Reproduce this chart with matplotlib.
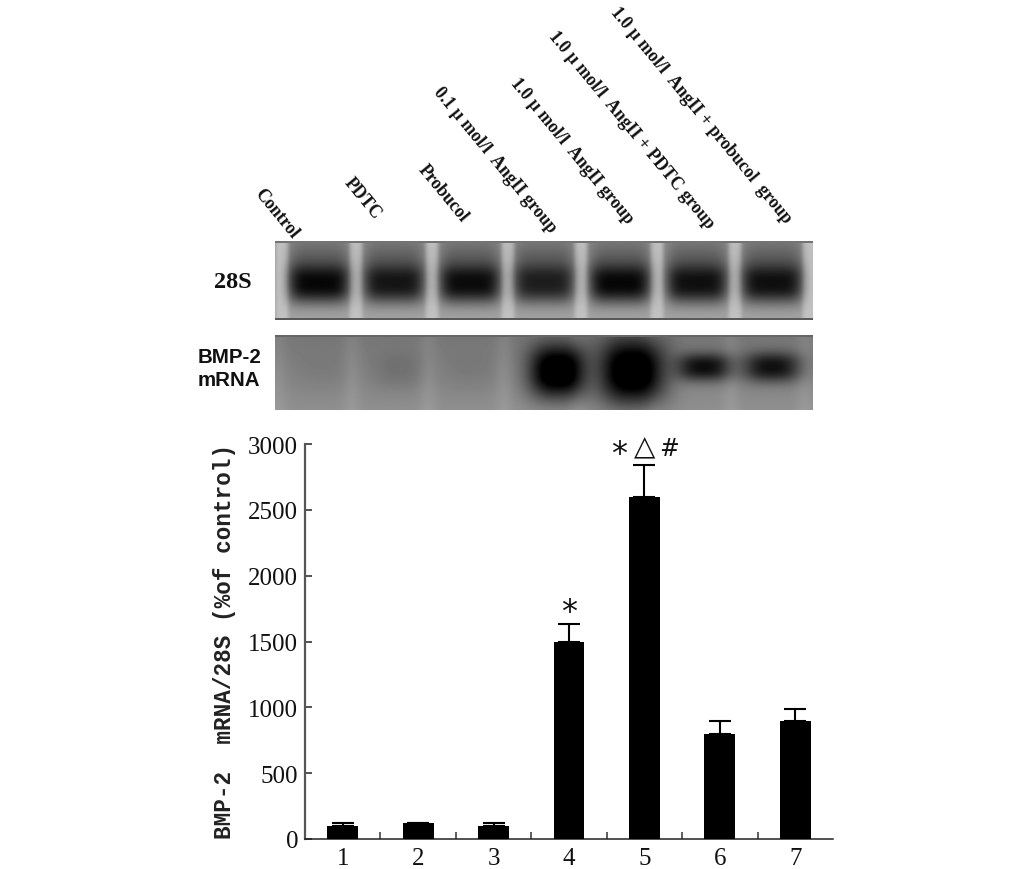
import numpy as np
import matplotlib
matplotlib.use("Agg")
import matplotlib.pyplot as plt

W, H = 1033, 870

# ---- data
groups = ["1", "2", "3", "4", "5", "6", "7"]
values = [100, 120, 100, 1500, 2600, 800, 900]
errors = [20, 0, 20, 130, 240, 100, 90]
yticks = [0, 500, 1000, 1500, 2000, 2500, 3000]
ylabel = "BMP-2  mRNA/28S (%of control)"

lane_labels = ["Control", "PDTC", "Probucol", "0.1 \u00b5 mol/l  AngII group",
               "1.0 \u00b5 mol/l  AngII group", "1.0 \u00b5 mol/l  AngII + PDTC group",
               "1.0 \u00b5 mol/l  AngII + probucol  group"]
lane_label_xy = [(258, 191), (347, 180), (421, 167), (437, 90), (514, 81), (552, 34), (614, 10)]

# blot lanes, in figure pixels
lane_x_28s = [319, 394, 470, 544, 620, 697, 772]
gap_x_28s = [282, 356, 432, 508, 581, 657, 735, 809]
band_28s = [0.96, 0.86, 0.93, 0.80, 0.96, 0.90, 0.90]
lane_x_bmp = [322, 398, 470, 558, 632, 704, 772]
band_bmp = [0.04, 0.10, 0.05, 1.0, 1.0, 0.72, 0.70]
band_y_bmp = [372, 372, 372, 372, 372, 368, 368]
band_w_bmp = [26, 26, 26, 29, 33, 28, 29]
band_h_bmp = [20, 20, 20, 27, 33, 14, 15]


def px_axes(x0, y0, x1, y1, **kw):
    return fig.add_axes([x0 / W, 1 - y1 / H, (x1 - x0) / W, (y1 - y0) / H], **kw)


fig = plt.figure(figsize=(W / 100, H / 100), dpi=100, facecolor="white")

# ---- 28S blot
x0, x1, y0, y1 = 275, 813, 242, 321
X, Y = np.meshgrid(np.arange(x0, x1) + .5, np.arange(y0, y1) + .5)
img = 0.56 + 0.08 * (Y - y0) / (y1 - y0)
for gx in gap_x_28s:
    g = np.exp(-np.abs((X - gx) / 7) ** 4)
    img = img + (0.76 - img) * g
for lx, a in zip(lane_x_28s, band_28s):
    prof = np.exp(-np.abs((X - lx) / 31) ** 5) * np.exp(-np.abs((Y - 284) / 20) ** 2.6)
    img = img * (1 - a * prof)
    halo = np.exp(-np.abs((X - lx) / 31) ** 5) * np.exp(-((Y - 258) / 20) ** 2)
    img = img * (1 - 0.30 * halo)
img[:2] = 0.45
img[-2:] = 0.35
ax = px_axes(x0, y0, x1, y1)
ax.imshow(img, cmap="gray", vmin=0, vmax=1, aspect="auto", interpolation="bilinear")
ax.axis("off")

# ---- BMP-2 blot
x0, x1, y0, y1 = 275, 813, 336, 411
X, Y = np.meshgrid(np.arange(x0, x1) + .5, np.arange(y0, y1) + .5)
img = 0.46 + 0.10 * (Y - y0) / (y1 - y0)
for gx in gap_x_28s:
    img = img + 0.04 * np.exp(-((X - gx + 4) / 9) ** 2)
for lx, a, by, bw, bh in zip(lane_x_bmp, band_bmp, band_y_bmp, band_w_bmp, band_h_bmp):
    prof = np.exp(-np.abs((X - lx) / bw) ** 2.6) * np.exp(-np.abs((Y - by) / bh) ** 2.4)
    img = img * (1 - np.clip(1.25 * a * prof, 0, 1))
img[:2] = 0.40
ax = px_axes(x0, y0, x1, y1)
ax.imshow(img, cmap="gray", vmin=0, vmax=1, aspect="auto", interpolation="bilinear")
ax.axis("off")

# ---- texts above and beside the blots
for lab, (lx, ly) in zip(lane_labels, lane_label_xy):
    fig.text(lx / W, 1 - ly / H, lab, rotation=-50.5, rotation_mode="anchor", ha="left", va="center",
             family="Liberation Serif", weight="bold", fontsize=12.8, color="#111111")
fig.text(233 / W, 1 - 283 / H, "28S", ha="center", va="center",
         family="Liberation Serif", weight="bold", fontsize=17.5, color="#111111")
fig.text(198 / W, 1 - 358 / H, "BMP-2", ha="left", va="center",
         family="Liberation Sans", weight="bold", fontsize=14.8, color="#111111")
fig.text(198 / W, 1 - 381 / H, "mRNA", ha="left", va="center",
         family="Liberation Sans", weight="bold", fontsize=14.8, color="#111111")

# ---- bar chart
ax = px_axes(305, 445, 833, 840)
pos = np.arange(1, len(groups) + 1)
ax.bar(pos, values, width=0.41, color="black", zorder=3)
ax.errorbar(pos, values, yerr=[np.zeros(len(errors)), errors], fmt="none", ecolor="black",
            elinewidth=1.5, capsize=8, capthick=1.5, zorder=2)
ax.set_xlim(0.5, 7.5)
ax.set_ylim(0, 3000)
ax.set_yticks(yticks)
ax.set_xticks(pos)
ax.set_xticklabels(groups)
ax.set_xticks(pos[:-1] + 0.5, minor=True)
ax.tick_params(axis="y", direction="in", length=5, width=1.3, color="#444444", pad=5, labelsize=18)
ax.tick_params(axis="x", which="major", length=0, pad=6, labelsize=18)
ax.tick_params(axis="x", which="minor", direction="in", length=5, width=1.1, color="#333333")
for t in ax.get_xticklabels() + ax.get_yticklabels():
    t.set_family("Liberation Serif")
    t.set_color("#111111")
for s in ("top", "right"):
    ax.spines[s].set_visible(False)
ax.spines["left"].set_color("#555555")
ax.spines["left"].set_linewidth(1.6)
ax.spines["bottom"].set_color("#222222")
ax.spines["bottom"].set_linewidth(1.1)
ax.patch.set_alpha(0)

fig.text(224 / W, 1 - 641 / H, ylabel, rotation=90, ha="center", va="center",
         family="Liberation Mono", weight="bold", fontsize=16.3, color="#222222")

# significance marks
sig = dict(ha="center", va="center", color="#111111", family="DejaVu Sans", clip_on=False)
ax.text(4, 1725, "*", fontsize=23, **sig)
ax.text(4.66, 2925, "*", fontsize=23, **sig)
ax.text(5.0, 2985, "\u25b3", fontsize=20, **sig)
ax.text(5.32, 2970, "#", fontsize=17, **sig)

fig.savefig("out.png", dpi=100, facecolor="white")
